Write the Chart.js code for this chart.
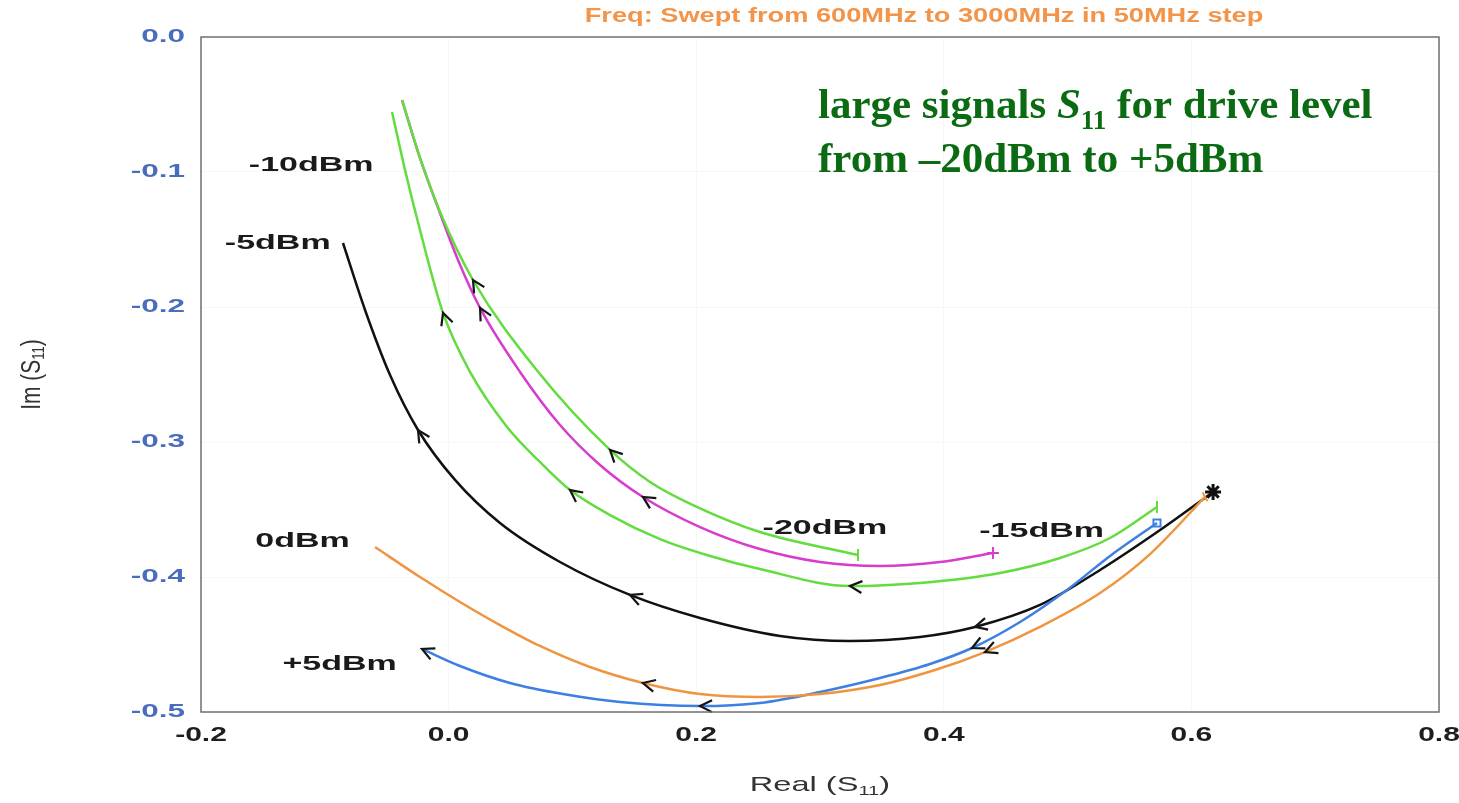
<!DOCTYPE html>
<html>
<head>
<meta charset="utf-8">
<script src="https://cdn.jsdelivr.net/npm/chart.js@4.4.1/dist/chart.umd.min.js"></script>
<style>
  html, body { margin: 0; background: #fff; }
  #wrap { width: 1459px; height: 803px; position: relative; }
</style>
</head>
<body>
<div id="wrap"><canvas id="s11Chart"></canvas></div>
<script>
// large signal S11 (Real, Im)
const re20 = [-0.0376, -0.0231, -0.0069, 0.0197, 0.0698, 0.1304, 0.1627, 0.1974, 0.2515, 0.3307];
const im20 = [-0.0467, -0.0896, -0.1296, -0.1800, -0.2452, -0.3059, -0.3296, -0.3467, -0.3667, -0.3837];

const re15 = [-0.0376, -0.0247, -0.0094, 0.0076, 0.0254, 0.0577, 0.0900, 0.1223, 0.1570, 0.2031, 0.2515, 0.3000, 0.3485, 0.3969, 0.4397];
const im15 = [-0.0467, -0.0852, -0.1244, -0.1652, -0.2007, -0.2481, -0.2874, -0.3170, -0.3407, -0.3630, -0.3793, -0.3889, -0.3919, -0.3889, -0.3822];

const re10 = [-0.0457, -0.0352, -0.0231, -0.0045, 0.0173, 0.0472, 0.0738, 0.0981, 0.1304, 0.1708, 0.2112, 0.2515, 0.3242, 0.3808, 0.4454, 0.4939, 0.5343, 0.5722];
const im10 = [-0.0556, -0.0985, -0.1430, -0.2044, -0.2481, -0.2889, -0.3148, -0.3356, -0.3541, -0.3719, -0.3844, -0.3941, -0.4067, -0.4044, -0.3970, -0.3859, -0.3711, -0.3481];

const re5 = [-0.0853, -0.0675, -0.0473, -0.0247, 0.0052, 0.0415, 0.0900, 0.1465, 0.2031, 0.2677, 0.3242, 0.3808, 0.4252, 0.4777, 0.5262, 0.5747, 0.6175];
const im5 = [-0.1526, -0.2022, -0.2504, -0.2911, -0.3281, -0.3600, -0.3889, -0.4133, -0.4304, -0.4437, -0.4474, -0.4444, -0.4370, -0.4207, -0.3948, -0.3652, -0.3370];

const re0 = [-0.0594, -0.0231, 0.0092, 0.0415, 0.0738, 0.1142, 0.1570, 0.2031, 0.2515, 0.3000, 0.3485, 0.3929, 0.4333, 0.4777, 0.5262, 0.5666, 0.6110];
const im0 = [-0.3778, -0.4000, -0.4185, -0.4356, -0.4511, -0.4667, -0.4785, -0.4867, -0.4889, -0.4867, -0.4800, -0.4689, -0.4556, -0.4370, -0.4119, -0.3830, -0.3407];

const reP5 = [-0.0215, 0.0092, 0.0496, 0.0924, 0.1384, 0.2031, 0.2515, 0.3000, 0.3485, 0.3889, 0.4228, 0.4616, 0.4995, 0.5343, 0.5722];
const imP5 = [-0.4533, -0.4659, -0.4785, -0.4867, -0.4926, -0.4956, -0.4933, -0.4852, -0.4748, -0.4644, -0.4526, -0.4333, -0.4096, -0.3844, -0.3600];

// point indices that carry a direction arrow
const arrows20 = [3, 5];
const arrows15 = [4, 8];
const arrows10 = [3, 7, 12];
const arrows5 = [3, 7, 12];
const arrows0 = [6, 12];
const arrowsP5 = [0, 5, 10];

const levelNames = ['-10dBm', '-5dBm', '-20dBm', '-15dBm', '0dBm', '+5dBm'];
const levelX = [-0.111, -0.138, 0.304, 0.479, -0.118, -0.088];
const levelY = [-0.095, -0.153, -0.364, -0.366, -0.374, -0.465];

const xTicks = [-0.2, 0.0, 0.2, 0.4, 0.6, 0.8];
const yTicks = [0.0, -0.1, -0.2, -0.3, -0.4, -0.5];

const sweepTitle = 'Freq: Swept from 600MHz to 3000MHz in 50MHz step';

const toPoints = (xs, ys) => xs.map((v, i) => ({ x: v, y: ys[i] }));

const curve = (label, xs, ys, color, arrowAt, marker, markerSize, markerRot, markerWidth) => ({
    label: label,
    data: toPoints(xs, ys),
    showLine: true,
    borderColor: color,
    borderWidth: 2.5,
    cubicInterpolationMode: 'monotone',
    arrowAt: arrowAt,
    pointStyle: marker,
    pointRotation: markerRot || 0,
    pointRadius: (c) => c.dataIndex === xs.length - 1 ? markerSize : 0,
    pointBorderColor: color,
    pointBackgroundColor: 'rgba(0,0,0,0)',
    pointBorderWidth: markerWidth || 2
});

// writes text squeezed or stretched sideways
function wideText(ctx, str, px, py, sx, align) {
    ctx.save();
    ctx.translate(px, py);
    ctx.scale(sx, 1);
    ctx.textAlign = align;
    ctx.fillText(str, 0, 0);
    ctx.restore();
}

const arrowPlugin = {
    id: 'arrowPlugin',
    afterDatasetsDraw(chart) {
        const ctx = chart.ctx;
        chart.data.datasets.forEach((ds, di) => {
            const pts = chart.getDatasetMeta(di).data;
            (ds.arrowAt || []).forEach(i => {
                const p = pts[i];
                const a = pts[Math.min(i + 1, pts.length - 1)];
                const b = pts[Math.max(i - 1, 0)];
                const ang = Math.atan2(b.y - a.y, b.x - a.x);
                ctx.save();
                ctx.translate(p.x, p.y);
                ctx.rotate(ang);
                ctx.beginPath();
                ctx.moveTo(-12, -6);
                ctx.lineTo(0, 0);
                ctx.lineTo(-12, 6);
                ctx.strokeStyle = '#151515';
                ctx.lineWidth = 2.2;
                ctx.stroke();
                ctx.restore();
            });
        });
    }
};

function subscriptText(ctx, main, sub, tail, size, subSize) {
    ctx.font = size + 'px "Liberation Sans", Arial, sans-serif';
    const w1 = ctx.measureText(main).width;
    const w3 = ctx.measureText(tail).width;
    ctx.font = subSize + 'px "Liberation Sans", Arial, sans-serif';
    const w2 = ctx.measureText(sub).width;
    const px = -(w1 + w2 + w3) / 2;
    ctx.textAlign = 'left';
    ctx.font = size + 'px "Liberation Sans", Arial, sans-serif';
    ctx.fillText(main, px, 0);
    ctx.fillText(tail, px + w1 + w2, 0);
    ctx.font = subSize + 'px "Liberation Sans", Arial, sans-serif';
    ctx.fillText(sub, px + w1, 6);
}

const textPlugin = {
    id: 'textPlugin',
    afterDraw(chart) {
        const ctx = chart.ctx;
        const area = chart.chartArea;
        const sx = chart.scales.x;
        const sy = chart.scales.y;

        // frame
        ctx.save();
        ctx.strokeStyle = '#707070';
        ctx.lineWidth = 1.5;
        ctx.strokeRect(area.left, area.top, area.right - area.left, area.bottom - area.top);

        ctx.textBaseline = 'middle';

        // tick labels
        ctx.font = 'bold 18px "Liberation Sans", Arial, sans-serif';
        ctx.fillStyle = '#4a6cbc';
        yTicks.forEach(v => {
            wideText(ctx, v.toFixed(1), area.left - 16, sy.getPixelForValue(v), 1.75, 'right');
        });
        ctx.font = 'bold 20px "Liberation Sans", Arial, sans-serif';
        ctx.fillStyle = '#1e1e1e';
        xTicks.forEach(v => {
            wideText(ctx, v.toFixed(1), sx.getPixelForValue(v), area.bottom + 23, 1.5, 'center');
        });

        // axis titles
        ctx.fillStyle = '#333';
        ctx.save();
        ctx.translate((area.left + area.right) / 2, 785);
        ctx.scale(1.55, 1);
        subscriptText(ctx, 'Real (S', '11', ')', 21, 13);
        ctx.restore();

        ctx.save();
        ctx.translate(32, (area.top + area.bottom) / 2);
        ctx.rotate(-Math.PI / 2);
        ctx.scale(1, 1.3);
        subscriptText(ctx, 'Im (S', '11', ')', 21, 13);
        ctx.restore();

        // sweep title
        ctx.font = 'bold 20px "Liberation Sans", Arial, sans-serif';
        ctx.fillStyle = '#f2954a';
        wideText(ctx, sweepTitle, 924, 16, 1.36, 'center');

        // drive level labels
        ctx.font = 'bold 20px "Liberation Sans", Arial, sans-serif';
        ctx.fillStyle = '#1a1a1a';
        levelNames.forEach((name, i) => {
            wideText(ctx, name, sx.getPixelForValue(levelX[i]), sy.getPixelForValue(levelY[i]), 1.7, 'center');
        });

        // green note
        ctx.fillStyle = '#0b6b12';
        ctx.textBaseline = 'alphabetic';
        ctx.textAlign = 'left';
        const serif = '"Liberation Serif", "Times New Roman", serif';
        let nx = 818;
        ctx.font = 'bold 43px ' + serif;
        ctx.fillText('large signals ', nx, 118);
        nx += ctx.measureText('large signals ').width;
        ctx.font = 'italic bold 43px ' + serif;
        ctx.fillText('S', nx, 118);
        nx += ctx.measureText('S').width;
        ctx.font = 'bold 27px ' + serif;
        ctx.fillText('11', nx, 129);
        nx += ctx.measureText('11').width;
        ctx.font = 'bold 43px ' + serif;
        ctx.fillText(' for drive level', nx, 118);
        ctx.fillText('from \u201320dBm to +5dBm', 818, 172);

        ctx.restore();
    }
};

new Chart(document.getElementById('s11Chart'), {
    type: 'scatter',
    data: {
        datasets: [
            curve('-20dBm', re20, im20, '#62dc3e', arrows20, 'line', 6, 90),
            curve('-15dBm', re15, im15, '#d83ccd', arrows15, 'cross', 6),
            curve('-10dBm', re10, im10, '#62dc3e', arrows10, 'line', 6, 90),
            curve('0dBm', re0, im0, '#f0953f', arrows0, 'line', 5, 60),
            curve('+5dBm', reP5, imP5, '#3d7fe2', arrowsP5, 'rect', 5),
            curve('-5dBm', re5, im5, '#111111', arrows5, 'star', 8, 0, 3)
        ]
    },
    options: {
        responsive: true,
        maintainAspectRatio: false,
        animation: false,
        layout: { padding: { top: 37, right: 20, left: 0, bottom: 0 } },
        plugins: {
            legend: { display: false },
            tooltip: { enabled: false }
        },
        scales: {
            x: {
                type: 'linear',
                min: -0.2,
                max: 0.8,
                afterBuildTicks: (axis) => { axis.ticks = xTicks.map(v => ({ value: v })); },
                afterFit: (axis) => { axis.height = 91; },
                ticks: { display: false },
                grid: { color: '#f7f7f7', drawTicks: false },
                border: { display: false }
            },
            y: {
                type: 'linear',
                min: -0.5,
                max: 0,
                afterBuildTicks: (axis) => { axis.ticks = yTicks.map(v => ({ value: v })); },
                afterFit: (axis) => { axis.width = 201; },
                ticks: { display: false },
                grid: { color: '#f7f7f7', drawTicks: false },
                border: { display: false }
            }
        }
    },
    plugins: [arrowPlugin, textPlugin]
});
</script>
</body>
</html>
